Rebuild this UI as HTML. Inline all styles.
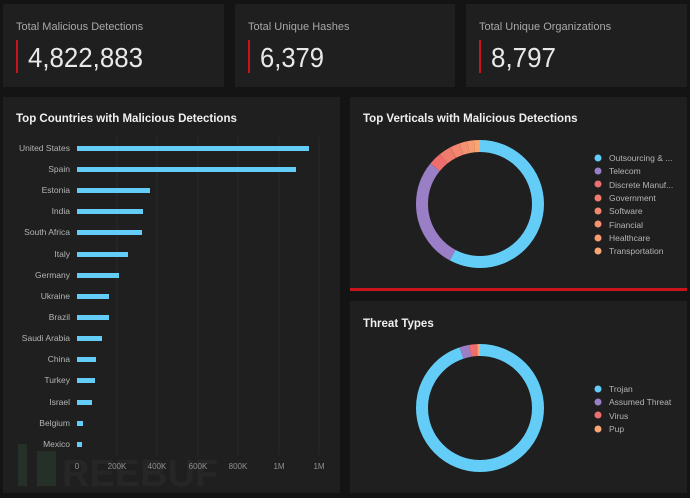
<!DOCTYPE html>
<html><head><meta charset="utf-8"><style>
body{margin:0;background:#141414;width:690px;height:493px;overflow:hidden;font-family:"Liberation Sans",sans-serif}
</style></head><body>
<svg width="690" height="493" xmlns="http://www.w3.org/2000/svg" font-family="Liberation Sans, sans-serif">
<rect width="690" height="493" fill="#141414"/>
<rect x="3" y="4" width="221" height="83" fill="#1f1f1f"/>
<rect x="235" y="4" width="220" height="83" fill="#1f1f1f"/>
<rect x="466" y="4" width="221" height="83" fill="#1f1f1f"/>
<g fill="#a8a8a8" font-size="11"><text x="16" y="30">Total Malicious Detections</text><text x="248" y="30">Total Unique Hashes</text><text x="479" y="30">Total Unique Organizations</text></g>
<g fill="#c8141a"><rect x="16" y="40" width="2" height="33"/><rect x="248" y="40" width="2" height="33"/><rect x="479" y="40" width="2" height="33"/></g>
<g fill="#e8e8e8" font-size="28"><text x="28" y="67" textLength="115" lengthAdjust="spacingAndGlyphs">4,822,883</text><text x="260" y="67" textLength="64" lengthAdjust="spacingAndGlyphs">6,379</text><text x="491" y="67" textLength="65" lengthAdjust="spacingAndGlyphs">8,797</text></g>

<rect x="3" y="97" width="337" height="396" fill="#1f1f1f"/>
<rect x="350" y="97" width="337" height="191" fill="#1f1f1f"/>
<rect x="350" y="288" width="337" height="3" fill="#c8141a"/>
<rect x="350" y="301" width="337" height="192" fill="#1f1f1f"/>
<g fill="#f0f0f0" font-size="11.5" font-weight="bold"><text x="16" y="122">Top Countries with Malicious Detections</text><text x="363" y="122">Top Verticals with Malicious Detections</text><text x="363" y="327">Threat Types</text></g>

<g stroke="#2a2a2a" stroke-width="1"><line x1="117" y1="137" x2="117" y2="455"/><line x1="157" y1="137" x2="157" y2="455"/><line x1="198" y1="137" x2="198" y2="455"/><line x1="238" y1="137" x2="238" y2="455"/><line x1="279" y1="137" x2="279" y2="455"/><line x1="319" y1="137" x2="319" y2="455"/></g>
<g fill="#63cdf7">
<rect x="77" y="146" width="232" height="5"/><rect x="77" y="167" width="219" height="5"/><rect x="77" y="188" width="73" height="5"/><rect x="77" y="209" width="66" height="5"/><rect x="77" y="230" width="65" height="5"/><rect x="77" y="252" width="51" height="5"/><rect x="77" y="273" width="42" height="5"/><rect x="77" y="294" width="32" height="5"/><rect x="77" y="315" width="32" height="5"/><rect x="77" y="336" width="25" height="5"/><rect x="77" y="357" width="19" height="5"/><rect x="77" y="378" width="18" height="5"/><rect x="77" y="400" width="15" height="5"/><rect x="77" y="421" width="6" height="5"/><rect x="77" y="442" width="5" height="5"/>
</g>
<g fill="#b4b4b4" font-size="8.5" text-anchor="end">
<text x="70" y="151">United States</text><text x="70" y="172">Spain</text><text x="70" y="193">Estonia</text><text x="70" y="214">India</text><text x="70" y="235">South Africa</text><text x="70" y="257">Italy</text><text x="70" y="278">Germany</text><text x="70" y="299">Ukraine</text><text x="70" y="320">Brazil</text><text x="70" y="341">Saudi Arabia</text><text x="70" y="362">China</text><text x="70" y="383">Turkey</text><text x="70" y="405">Israel</text><text x="70" y="426">Belgium</text><text x="70" y="447">Mexico</text>
</g>
<g fill="#253028"><rect x="18" y="444" width="9" height="42"/><rect x="37" y="451" width="19" height="35"/></g>
<text x="62" y="486" font-size="38" font-weight="bold" fill="#262626">REEBUF</text>
<g fill="#909090" font-size="8" text-anchor="middle"><text x="77" y="469">0</text><text x="117" y="469">200K</text><text x="157" y="469">400K</text><text x="198" y="469">600K</text><text x="238" y="469">800K</text><text x="279" y="469">1M</text><text x="319" y="469">1M</text></g>

<g transform="rotate(-90 480 204)" fill="none" stroke-width="12">
<circle cx="480" cy="204" r="58" stroke="#63cdf7" stroke-dasharray="210.5 400" stroke-dashoffset="0"/>
<circle cx="480" cy="204" r="58" stroke="#9b7fc6" stroke-dasharray="102.2 400" stroke-dashoffset="-210.5"/>
<circle cx="480" cy="204" r="58" stroke="#ee6e6e" stroke-dasharray="12.1 400" stroke-dashoffset="-312.8"/>
<circle cx="480" cy="204" r="58" stroke="#f07c6e" stroke-dasharray="11.1 400" stroke-dashoffset="-324.9"/>
<circle cx="480" cy="204" r="58" stroke="#f3876f" stroke-dasharray="9.1 400" stroke-dashoffset="-336.1"/>
<circle cx="480" cy="204" r="58" stroke="#f59270" stroke-dasharray="7.1 400" stroke-dashoffset="-345.2"/>
<circle cx="480" cy="204" r="58" stroke="#f79c72" stroke-dasharray="6.1 400" stroke-dashoffset="-352.3"/>
<circle cx="480" cy="204" r="58" stroke="#f9a673" stroke-dasharray="6 400" stroke-dashoffset="-358.4"/>
</g>
<g transform="rotate(-90 480 408)" fill="none" stroke-width="12">
<circle cx="480" cy="408" r="58" stroke="#63cdf7" stroke-dasharray="345.2 400" stroke-dashoffset="0"/>
<circle cx="480" cy="408" r="58" stroke="#9b7fc6" stroke-dasharray="9.1 400" stroke-dashoffset="-345.2"/>
<circle cx="480" cy="408" r="58" stroke="#ee6e6e" stroke-dasharray="7.1 400" stroke-dashoffset="-354.3"/>
<circle cx="480" cy="408" r="58" stroke="#f9a673" stroke-dasharray="3 400" stroke-dashoffset="-361.4"/>
</g>
<g font-size="8.5" fill="#b4b4b4">
<circle cx="598" cy="158" r="3.5" fill="#63cdf7"/><text x="609" y="161">Outsourcing &amp; ...</text>
<circle cx="598" cy="171" r="3.5" fill="#9b7fc6"/><text x="609" y="174">Telecom</text>
<circle cx="598" cy="184" r="3.5" fill="#ee6e6e"/><text x="609" y="188">Discrete Manuf...</text>
<circle cx="598" cy="198" r="3.5" fill="#f07c6e"/><text x="609" y="201">Government</text>
<circle cx="598" cy="211" r="3.5" fill="#f3876f"/><text x="609" y="214">Software</text>
<circle cx="598" cy="224" r="3.5" fill="#f59270"/><text x="609" y="228">Financial</text>
<circle cx="598" cy="238" r="3.5" fill="#f79c72"/><text x="609" y="241">Healthcare</text>
<circle cx="598" cy="251" r="3.5" fill="#f9a673"/><text x="609" y="254">Transportation</text>
<circle cx="598" cy="389" r="3.5" fill="#63cdf7"/><text x="609" y="392">Trojan</text>
<circle cx="598" cy="402" r="3.5" fill="#9b7fc6"/><text x="609" y="405">Assumed Threat</text>
<circle cx="598" cy="415" r="3.5" fill="#ee6e6e"/><text x="609" y="419">Virus</text>
<circle cx="598" cy="429" r="3.5" fill="#f9a673"/><text x="609" y="432">Pup</text>
</g>
</svg>
</body></html>
